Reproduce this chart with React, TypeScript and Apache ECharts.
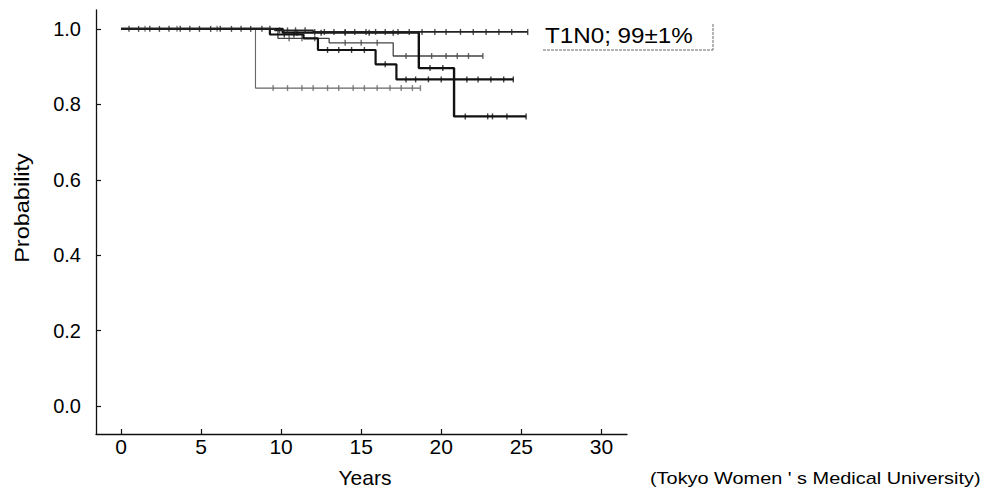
import React, { useEffect, useRef } from "react";
import * as echarts from "echarts";

// Kaplan–Meier curves: step times and survival probabilities (value after each time)
const curveA_times = [0, 9.6, 12.0];
const curveA_surv = [1.0, 0.996, 0.992];
const curveA_end = 25.4;
const curveA_censor = [0.5, 1.1, 1.8, 2.4, 3.0, 3.7, 4.3, 4.9, 5.6, 6.2, 6.9, 7.5, 8.1, 8.8, 9.3, 9.9, 10.4, 10.9, 11.5, 12.1, 12.7, 13.3, 14.0, 14.6, 15.3, 15.9, 16.5, 17.3, 18.0, 18.8, 19.6, 20.3, 21.2, 22.0, 22.8, 23.6, 24.4, 25.4];

const curveB_times = [0, 8.4];
const curveB_surv = [1.0, 0.843];
const curveB_end = 18.7;
const curveB_censor = [1.5, 3.5, 6.0, 9.5, 10.4, 11.3, 12.0, 12.9, 13.6, 14.5, 15.2, 16.0, 16.8, 17.5, 18.2, 18.7];

const curveC_times = [0, 9.3, 11.4, 12.3, 15.9, 17.2];
const curveC_surv = [1.0, 0.985, 0.975, 0.944, 0.906, 0.866];
const curveC_end = 24.5;
const curveC_censor = [10.2, 10.8, 12.9, 13.6, 14.4, 15.2, 16.5, 17.8, 18.4, 19.2, 20.0, 20.8, 21.6, 22.3, 23.1, 23.9, 24.5];

const curveD_times = [0, 10.1, 18.6, 20.8];
const curveD_surv = [1.0, 0.99, 0.896, 0.768];
const curveD_end = 25.3;
const curveD_censor = [11.0, 12.5, 14.0, 15.5, 17.0, 19.3, 20.1, 21.5, 22.9, 23.2, 24.1, 25.3];

const curveE_times = [0, 9.8, 13.0, 17.0];
const curveE_surv = [1.0, 0.975, 0.963, 0.928];
const curveE_end = 22.6;
const curveE_censor = [10.5, 11.3, 12.1, 14.0, 15.0, 16.0, 17.8, 18.6, 19.4, 20.3, 21.0, 21.7, 22.6];

const xTicks = [0, 5, 10, 15, 20, 25, 30];
const yTicks = [0, 0.2, 0.4, 0.6, 0.8, 1.0];

const curveLabel = "T1N0; 99\u00B11%";
const sourceNote = "(Tokyo Women ' s Medical University)";

const FONT = "Liberation Sans, Arial, sans-serif";

function survAt(times: number[], surv: number[], t: number) {
  let s = surv[0];
  for (let i = 0; i < times.length; i++) if (times[i] <= t) s = surv[i];
  return s;
}

function curveSeries(
  times: number[],
  surv: number[],
  end: number,
  censor: number[],
  color: string,
  width: number,
  z: number
) {
  const data = times.map((t, i) => [t, surv[i]]);
  data.push([end, surv[surv.length - 1]]);
  return [
    {
      type: "line",
      step: "end",
      data,
      showSymbol: false,
      symbol: "none",
      lineStyle: { color, width },
      z,
      silent: true,
    },
    {
      type: "scatter",
      data: censor.map((t) => [t, survAt(times, surv, t)]),
      symbol: "rect",
      symbolSize: [1.4, 6],
      itemStyle: { color },
      z,
      silent: true,
    },
  ];
}

export default function App() {
  const ref = useRef<HTMLDivElement>(null);
  useEffect(() => {
    if (!ref.current) return;
    const chart = echarts.init(ref.current, undefined, { renderer: "svg" });
    const option: any = {
      animation: false,
      backgroundColor: "#ffffff",
      grid: { left: 96, top: 10, right: 363, bottom: 61 },
      xAxis: {
        type: "value",
        min: -1.56,
        max: 31.6,
        splitLine: { show: false },
        axisLine: { show: true, onZero: false, lineStyle: { color: "#111", width: 1.3 } },
        axisTick: { show: true, inside: true, length: 5, customValues: xTicks, lineStyle: { color: "#111", width: 1.2 } },
        axisLabel: {
          customValues: xTicks,
          color: "#000",
          fontSize: 21,
          fontFamily: FONT,
          margin: 2,
          formatter: (v: number) => String(v),
        },
      },
      yAxis: {
        type: "value",
        min: -0.074,
        max: 1.05,
        splitLine: { show: false },
        axisLine: { show: true, onZero: false, lineStyle: { color: "#111", width: 1.3 } },
        axisTick: { show: true, inside: true, length: 5, customValues: yTicks, lineStyle: { color: "#111", width: 1.2 } },
        axisLabel: {
          customValues: yTicks,
          color: "#000",
          fontSize: 20,
          fontFamily: FONT,
          margin: 15,
          formatter: (v: number) => v.toFixed(1),
        },
      },
      series: [
        ...curveSeries(curveB_times, curveB_surv, curveB_end, curveB_censor, "#666", 1.1, 2),
        ...curveSeries(curveE_times, curveE_surv, curveE_end, curveE_censor, "#444", 1.3, 3),
        ...curveSeries(curveC_times, curveC_surv, curveC_end, curveC_censor, "#111", 2.2, 4),
        ...curveSeries(curveD_times, curveD_surv, curveD_end, curveD_censor, "#111", 2.4, 5),
        ...curveSeries(curveA_times, curveA_surv, curveA_end, curveA_censor, "#222", 1.6, 6),
      ],
      graphic: [
        {
          type: "text",
          x: 22,
          y: 208,
          rotation: Math.PI / 2,
          scaleX: 1.12,
          style: {
            text: "Probability",
            fontSize: 21,
            fontFamily: FONT,
            fill: "#000",
            align: "center",
            verticalAlign: "middle",
          },
        },
        {
          type: "text",
          x: 365,
          y: 477,
          style: {
            text: "Years",
            fontSize: 21,
            fontFamily: FONT,
            fill: "#000",
            align: "center",
            verticalAlign: "middle",
          },
        },
        {
          type: "text",
          x: 545,
          y: 35,
          scaleX: 1.1,
          style: {
            text: curveLabel,
            fontSize: 22,
            fontFamily: FONT,
            fill: "#000",
            align: "left",
            verticalAlign: "middle",
          },
        },
        {
          type: "line",
          shape: { x1: 543, y1: 50, x2: 713, y2: 50 },
          style: { stroke: "#666", lineWidth: 1, lineDash: [3, 1] },
        },
        {
          type: "line",
          shape: { x1: 713, y1: 24, x2: 713, y2: 50 },
          style: { stroke: "#666", lineWidth: 1, lineDash: [3, 1] },
        },
        {
          type: "text",
          x: 650,
          y: 478,
          scaleX: 1.17,
          style: {
            text: sourceNote,
            fontSize: 17,
            fontFamily: FONT,
            fill: "#000",
            align: "left",
            verticalAlign: "middle",
          },
        },
      ],
    };
    chart.setOption(option);
    return () => chart.dispose();
  }, []);
  return (
    <div
      ref={ref}
      style={{ position: "fixed", left: 0, top: 0, width: 990, height: 495, background: "#fff" }}
    />
  );
}
